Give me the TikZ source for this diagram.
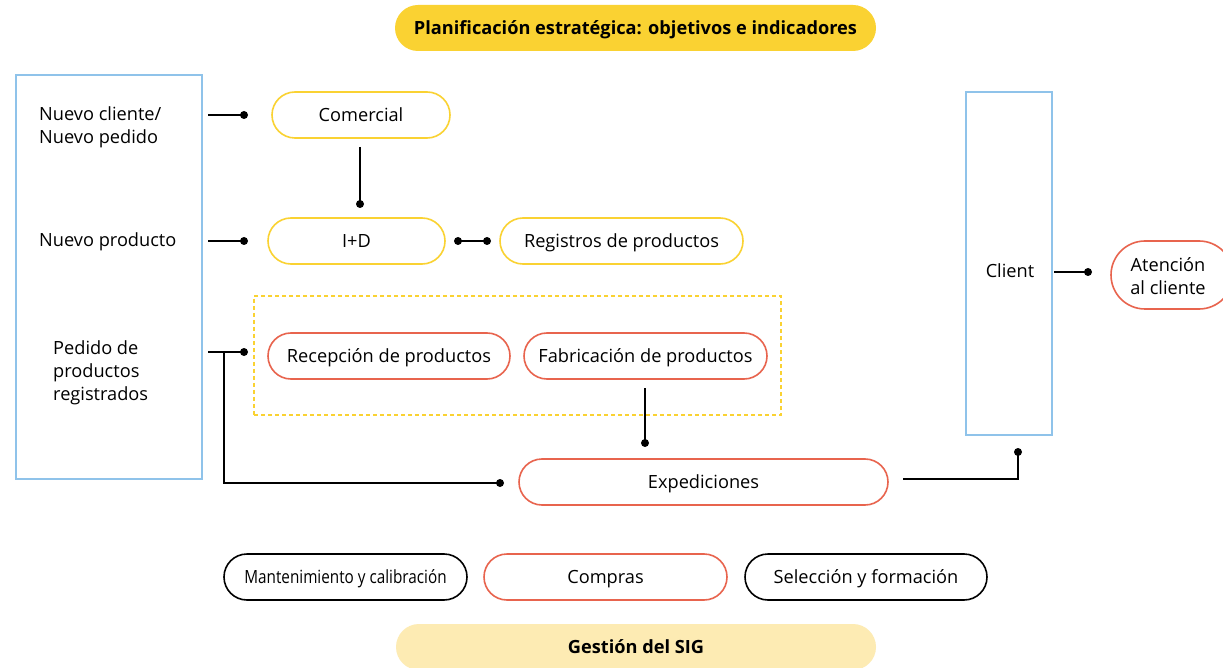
\documentclass[tikz,border=0pt]{standalone}
\usepackage{fontspec}
\setmainfont{Open Sans}
\definecolor{ylw}{HTML}{FAD232}
\definecolor{ylwlight}{HTML}{FDEBB3}
\definecolor{rd}{HTML}{E8644E}
\definecolor{bl}{HTML}{8FC3EA}
\begin{document}
\begin{tikzpicture}[x=1pt,y=-1pt,
  txt/.style={font=\fontsize{18.2}{23}\selectfont, inner sep=0pt},
  pill/.style={rectangle, rounded corners=23pt, draw, line width=1.6pt, minimum height=46pt, inner sep=0pt, text height=17pt, text depth=4pt, font=\fontsize{18.2}{23}\selectfont},
  ypill/.style={pill, draw=ylw},
  rpill/.style={pill, draw=rd},
  kpill/.style={pill, draw=black},
  banner/.style={rectangle, rounded corners=23pt, minimum height=46pt, inner sep=0pt, text height=17pt, text depth=4pt, font=\bfseries\fontsize{18.2}{23}\selectfont},
  bbox/.style={rectangle, draw=bl, line width=1.6pt, inner sep=0pt},
  conn/.style={line width=1.6pt, black},
  thin/.style={line width=1.1pt, black},
  dot/.style={fill=black}
]
\clip (0,0) rectangle (1223,668);
\fill[white] (0,0) rectangle (1223,668);

% banners
\node[banner, fill=ylw, minimum width=481pt] (plan) at (635.5,28) {Planificación estratégica: objetivos e indicadores};
\node[banner, fill=ylwlight, minimum width=480pt] (sig) at (636,647) {Gestión del SIG};

% left box
\node[bbox, minimum width=186pt, minimum height=404pt] (left) at (109,277) {};
\node[txt, anchor=west, align=left] (t1) at (39,127) {Nuevo cliente/\\Nuevo pedido};
\node[txt, anchor=west] (t2) at (39,242) {Nuevo producto};
\node[txt, anchor=west, align=left] (t3) at (53,373) {Pedido de\\productos\\registrados};

% process pills
\node[ypill, minimum width=178pt] (com) at (361,115) {Comercial};
\node[ypill, minimum width=177pt] (id) at (356.5,241) {I+D};
\node[ypill, minimum width=243pt] (reg) at (621.5,241) {Registros de productos};

\node[rectangle, draw=ylw, dashed, dash pattern=on 4pt off 3pt, line width=1.3pt, minimum width=527pt, minimum height=119pt, inner sep=0pt] (grp) at (517.5,355.5) {};
\node[rpill, minimum width=242pt] (rec) at (389,356) {Recepción de productos};
\node[rpill, minimum width=243pt] (fab) at (645.5,356) {Fabricación de productos};
\node[rpill, minimum width=369pt] (exp) at (703.5,482) {Expediciones};

% client
\node[bbox, minimum width=86pt, minimum height=343pt] (client) at (1009,263.5) {};
\node[txt] (clt) at (1010,271) {Client};
\node[rpill, rounded corners=34pt, minimum width=122pt, minimum height=68pt] (aten) at (1172,275) {};
\node[txt, align=center] (atent) at (1168,276) {Atención\\al cliente};

% bottom
\node[kpill, minimum width=243pt] (mant) at (345.5,577) {\scalebox{0.84}[1]{Mantenimiento y calibración}};
\node[rpill, minimum width=243pt] (comp) at (605.5,577) {Compras};
\node[kpill, minimum width=242pt] (sel) at (866,577) {Selección y formación};

% connector coordinates
\coordinate (a1) at (208,115); \coordinate (b1) at (244,115);
\coordinate (a2) at (208,241); \coordinate (b2) at (244,241);
\coordinate (a3) at (208,352); \coordinate (b3) at (244,352);
\coordinate (j3) at (224,352); \coordinate (k3) at (224,483); \coordinate (e3) at (500,483);
\coordinate (ca) at (360,147); \coordinate (cb) at (360,204);
\coordinate (ia) at (458,241); \coordinate (ib) at (487,241);
\coordinate (fa) at (645,388); \coordinate (fb) at (645,443);
\coordinate (xa) at (903,479); \coordinate (xk) at (1018,479); \coordinate (xb) at (1018,452);
\coordinate (la) at (1054,272); \coordinate (lb) at (1088,272);

\draw[conn] (a1) -- (b1); \fill[dot] (b1) circle (4pt);
\draw[conn] (a2) -- (b2); \fill[dot] (b2) circle (4pt);
\draw[conn] (a3) -- (b3); \fill[dot] (b3) circle (4pt);
\draw[thin] (j3) -- (k3) -- (e3); \fill[dot] (e3) circle (4pt);
\draw[conn] (ca) -- (cb); \fill[dot] (cb) circle (4pt);
\fill[dot] (ia) circle (4pt); \draw[conn] (ia) -- (ib); \fill[dot] (ib) circle (4pt);
\draw[conn] (fa) -- (fb); \fill[dot] (fb) circle (4pt);
\draw[thin] (xa) -- (xk) -- (xb); \fill[dot] (xb) circle (4pt);
\draw[conn] (la) -- (lb); \fill[dot] (lb) circle (4pt);
\end{tikzpicture}
\end{document}
